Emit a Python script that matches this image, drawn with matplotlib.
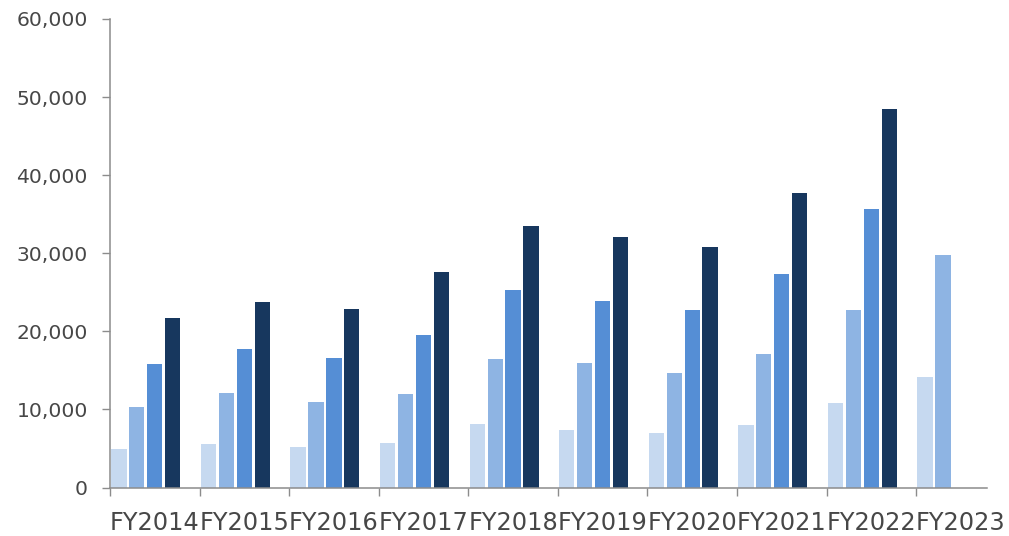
import matplotlib
matplotlib.use("Agg")
import matplotlib.pyplot as plt
import numpy as np
from matplotlib.ticker import FuncFormatter, FixedLocator

# data
years = ["FY2014", "FY2015", "FY2016", "FY2017", "FY2018",
         "FY2019", "FY2020", "FY2021", "FY2022", "FY2023"]
series_1 = [4930, 5570, 5190, 5700, 8130, 7360, 6980, 8000, 10820, 14150]
series_2 = [10310, 12100, 10950, 11970, 16460, 15950, 14660, 17100, 22730, 29780]
series_3 = [15820, 17740, 16590, 19530, 25290, 23890, 22730, 27340, 35670, np.nan]
series_4 = [21710, 23760, 22860, 27600, 33490, 32080, 30800, 37720, 48480, np.nan]

colors = ["#c6d9f0", "#8eb4e3", "#558ed5", "#17375e"]
text_color = "#474747"
axis_color = "#8c8c8c"

plt.rcParams["font.family"] = ["DejaVu Sans"]

fig = plt.figure(figsize=(10.09, 5.36), dpi=100)
ax = fig.add_axes([110 / 1009, 48.5 / 536, 877 / 1009, 468.5 / 536])

x = np.arange(len(years))
offsets = [-0.4, -0.2, 0.0, 0.2]
bar_width = 0.17
for vals, off, col in zip([series_1, series_2, series_3, series_4], offsets, colors):
    ax.bar(x + off, vals, width=bar_width, color=col, linewidth=0)

ax.set_xlim(-0.5, 9.292)
ax.set_ylim(0, 60000)

ax.set_yticks(np.arange(0, 60001, 10000))
ax.yaxis.set_major_formatter(FuncFormatter(lambda v, p: f"{int(v):,}"))
ax.tick_params(axis="y", direction="out", length=6, width=1, color=axis_color,
               labelsize=14.6, labelcolor=text_color, pad=10)

ax.set_xticks(x)
ax.set_xticklabels(years)
ax.xaxis.set_minor_locator(FixedLocator(np.arange(-0.5, 9.0, 1.0)))
ax.tick_params(axis="x", which="major", length=0, labelsize=17.3,
               labelcolor=text_color, pad=17)
ax.tick_params(axis="x", which="minor", direction="out", length=5.5, width=1,
               color=axis_color)

for side in ["top", "right"]:
    ax.spines[side].set_visible(False)
for side in ["left", "bottom"]:
    ax.spines[side].set_color(axis_color)
    ax.spines[side].set_linewidth(1.1)

fig.savefig("out.png", dpi=100, facecolor="white")
